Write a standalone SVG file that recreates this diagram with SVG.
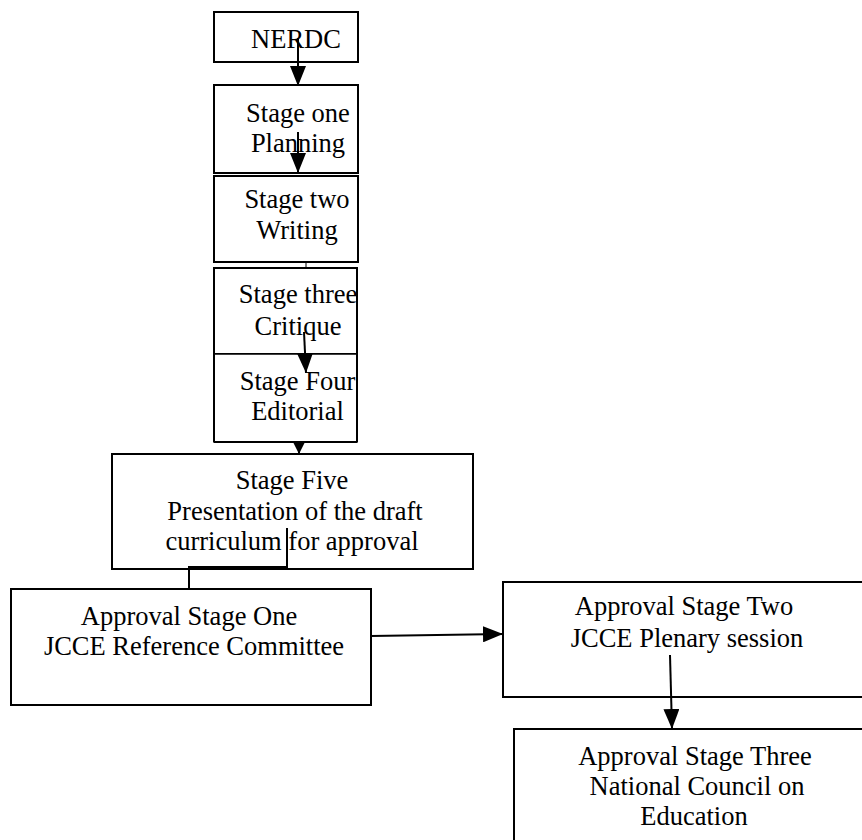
<svg xmlns="http://www.w3.org/2000/svg" width="862" height="840" viewBox="0 0 862 840">
<style>
.box{fill:#fff;stroke:#000;stroke-width:2}
.t{font-family:"Liberation Serif","Times New Roman",serif;font-size:26.5px;fill:#000;text-anchor:middle}
.c{fill:none;stroke:#000;stroke-width:2}
</style>
<defs>
<marker id="ah" markerUnits="userSpaceOnUse" markerWidth="20" markerHeight="16" refX="20" refY="8" orient="auto">
<path d="M0,0 L20,8 L0,16 Z" fill="#000"/>
</marker>
<marker id="ahs" markerUnits="userSpaceOnUse" markerWidth="12" markerHeight="12" refX="12" refY="6" orient="auto">
<path d="M0,0 L12,6 L0,12 Z" fill="#000"/>
</marker>
</defs>
<rect width="862" height="840" fill="#fff"/>
<g id="nerdc"><rect class="box" x="214" y="12" width="144" height="50"/><text class="t" x="296" y="48">NERDC</text></g>
<g id="stage1"><rect class="box" x="214" y="85" width="144" height="88"/><text class="t" x="298" y="122">Stage one</text><text class="t" x="298" y="152">Planning</text></g>
<g id="stage2"><rect class="box" x="214" y="176" width="144" height="86"/><text class="t" x="297" y="208">Stage two</text><text class="t" x="297" y="239">Writing</text></g>
<g id="stage3"><rect class="box" x="214" y="268" width="143" height="86"/><text class="t" x="298" y="303">Stage three</text><text class="t" x="298" y="335">Critique</text></g>
<g id="stage4"><rect class="box" x="214" y="354" width="143" height="88" style="stroke-width:1.5"/><line x1="214" y1="442" x2="357" y2="442" class="c"/><line x1="214" y1="354" x2="214" y2="442" class="c"/><line x1="357" y1="354" x2="357" y2="442" class="c"/><text class="t" x="297.5" y="390">Stage Four</text><text class="t" x="297.5" y="420">Editorial</text></g>
<g id="stage5"><rect class="box" x="112" y="454" width="361" height="115"/><text class="t" x="292" y="489">Stage Five</text><text class="t" x="295" y="520">Presentation of the draft</text><text class="t" x="292" y="550">curriculum for approval</text></g>
<g id="approval1"><rect class="box" x="11" y="589" width="360" height="116"/><text class="t" x="189" y="625">Approval Stage One</text><text class="t" x="194" y="655">JCCE Reference Committee</text></g>
<g id="approval2"><rect class="box" x="503" y="582" width="380" height="115"/><text class="t" x="684" y="615">Approval Stage Two</text><text class="t" x="687" y="647">JCCE Plenary session</text></g>
<g id="approval3"><rect class="box" x="514" y="729" width="380" height="140"/><text class="t" x="695" y="765">Approval Stage Three</text><text class="t" x="697" y="795">National Council on</text><text class="t" x="694" y="825">Education</text></g>
<g id="connectors">
<line class="c" x1="298" y1="38" x2="298" y2="86" marker-end="url(#ah)"/>
<line class="c" x1="298" y1="132" x2="298" y2="173" marker-end="url(#ah)"/>
<line x1="306" y1="262" x2="306" y2="268" stroke="#000" stroke-width="1"/>
<line class="c" x1="304" y1="332" x2="306" y2="373" marker-end="url(#ah)"/>
<line class="c" x1="299" y1="442" x2="299" y2="454" marker-end="url(#ahs)"/>
<polyline class="c" points="287,528 287,567 189,567 189,589"/>
<line class="c" x1="371" y1="636" x2="503" y2="634" marker-end="url(#ah)"/>
<line class="c" x1="670" y1="655" x2="672" y2="729" marker-end="url(#ah)"/>
</g>
</svg>
